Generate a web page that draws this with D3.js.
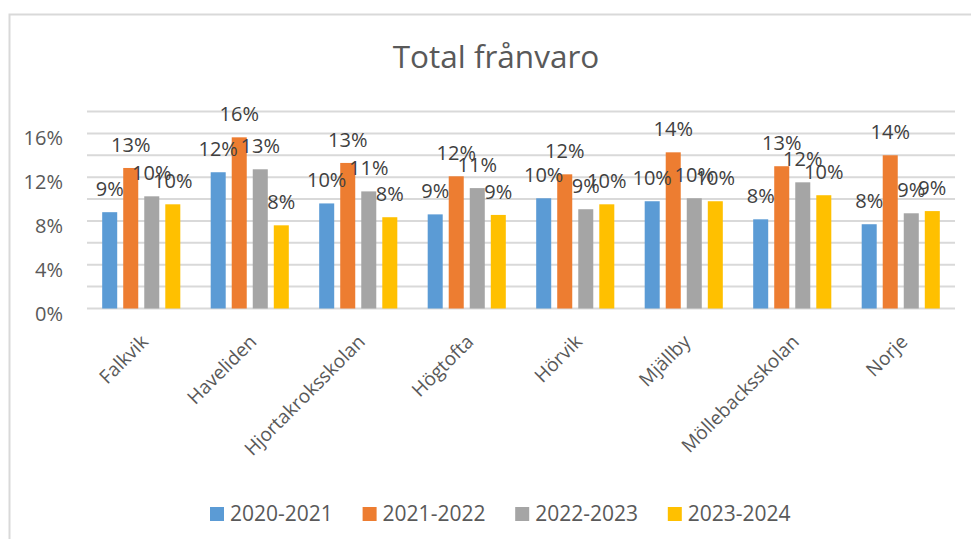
<!DOCTYPE html>
<html>
<head>
<meta charset="utf-8">
<script src="https://cdn.jsdelivr.net/npm/d3@7"></script>
<style>
  html, body { margin: 0; padding: 0; background: #fff; }
  svg { display: block; font-family: "Open Sans", sans-serif; }
</style>
</head>
<body>
<svg id="chart" width="971" height="539"></svg>
<script>
var title = 'Total frånvaro';
var categories = ['Falkvik', 'Haveliden', 'Hjortakroksskolan', 'Högtofta', 'Hörvik', 'Mjällby', 'Möllebacksskolan', 'Norje'];
var seriesNames = ['2020-2021', '2021-2022', '2022-2023', '2023-2024'];
var colors = ['#5B9BD5', '#ED7D31', '#A5A5A5', '#FFC000'];
var v2020 = [0.088, 0.1245, 0.096, 0.086, 0.1007, 0.098, 0.0815, 0.077];
var v2021 = [0.1284, 0.1564, 0.133, 0.1208, 0.1226, 0.1427, 0.130, 0.140];
var v2022 = [0.1025, 0.1272, 0.107, 0.110, 0.0907, 0.1007, 0.1153, 0.087];
var v2023 = [0.0952, 0.076, 0.0834, 0.0855, 0.0952, 0.098, 0.1035, 0.089];
var yTicks = [0, 0.04, 0.08, 0.12, 0.16];
var yGrid = [0, 0.02, 0.04, 0.06, 0.08, 0.10, 0.12, 0.14, 0.16, 0.18];

var series = [v2020, v2021, v2022, v2023];
var textColor = '#595959';
var gridColor = '#d9d9d9';

var svg = d3.select('#chart');

// chart area border
svg.append('rect')
    .attr('x', 9.5).attr('y', 14.5)
    .attr('width', 1000).attr('height', 600)
    .attr('fill', 'none')
    .attr('stroke', gridColor)
    .attr('stroke-width', 2);

svg.append('text')
    .attr('x', 496).attr('y', 68)
    .attr('text-anchor', 'middle')
    .attr('fill', textColor)
    .style('font-size', '31.5px')
    .text(title);

var x0 = d3.scaleBand().domain(categories).range([87, 955]);
var groupW = x0.bandwidth() * 0.72;
var x1 = d3.scaleBand().domain(d3.range(series.length))
    .range([(x0.bandwidth() - groupW) / 2, (x0.bandwidth() + groupW) / 2])
    .paddingInner(0.286);
var y = d3.scaleLinear().domain([0, 0.18]).range([308.5, 111.5]);
var pct = d3.format('.0%');

// gridlines
svg.append('g').selectAll('line')
    .data(yGrid)
    .join('line')
    .attr('x1', 87).attr('x2', 955)
    .attr('y1', function(d) { return y(d); })
    .attr('y2', function(d) { return y(d); })
    .attr('stroke', gridColor)
    .attr('stroke-width', 2);

// y tick labels
svg.append('g').selectAll('text')
    .data(yTicks)
    .join('text')
    .attr('x', 63)
    .attr('y', function(d) { return y(d) + 12; })
    .attr('text-anchor', 'end')
    .attr('fill', textColor)
    .style('font-size', '20px')
    .text(pct);

// bars
var groups = svg.append('g').selectAll('g')
    .data(categories)
    .join('g')
    .attr('transform', function(d) { return 'translate(' + x0(d) + ',0)'; });

series.forEach(function(vals, si) {
    groups.append('rect')
        .attr('x', x1(si))
        .attr('width', x1.bandwidth())
        .attr('y', function(d, i) { return y(vals[i]); })
        .attr('height', function(d, i) { return y(0) - y(vals[i]); })
        .attr('fill', colors[si]);
});

// data labels drawn after bars so they sit on top
series.forEach(function(vals, si) {
    groups.append('text')
        .attr('x', x1(si) + x1.bandwidth() / 2)
        .attr('y', function(d, i) { return y(vals[i]) - 16; })
        .attr('text-anchor', 'middle')
        .attr('fill', '#404040')
        .style('font-size', '20px')
        .text(function(d, i) { return pct(vals[i]); });
});

// category labels
svg.append('g').selectAll('text')
    .data(categories)
    .join('text')
    .attr('transform', function(d) {
        return 'translate(' + (x0(d) + x0.bandwidth() / 2 + 8) + ',343) rotate(-45)';
    })
    .attr('text-anchor', 'end')
    .attr('fill', textColor)
    .style('font-size', '19px')
    .text(function(d) { return d; });

// legend
var legend = svg.append('g').selectAll('g')
    .data(seriesNames)
    .join('g')
    .attr('transform', function(d, i) { return 'translate(' + (210 + i * 152.6) + ',0)'; });

legend.append('rect')
    .attr('x', 0).attr('y', 507)
    .attr('width', 14).attr('height', 14)
    .attr('fill', function(d, i) { return colors[i]; });

legend.append('text')
    .attr('x', 20).attr('y', 521)
    .attr('fill', textColor)
    .style('font-size', '21px')
    .text(function(d) { return d; });
</script>
</body>
</html>
